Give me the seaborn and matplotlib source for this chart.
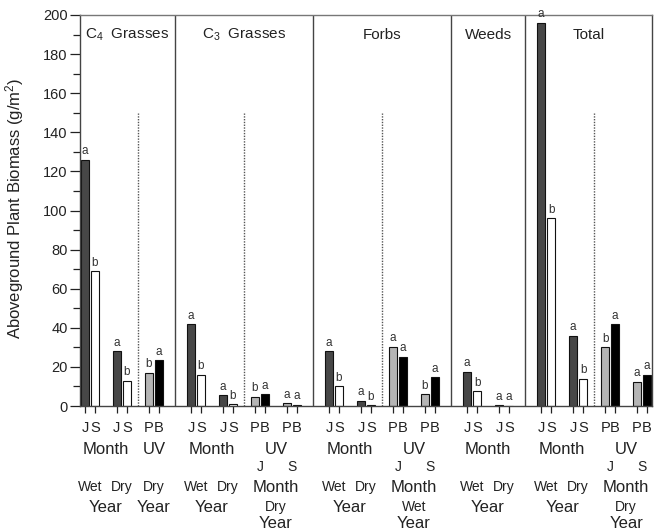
import numpy as np
import pandas as pd
import seaborn as sns
import matplotlib.pyplot as plt
from matplotlib.ticker import MultipleLocator
from matplotlib.transforms import blended_transform_factory

sns.set_theme(style="ticks")
plt.rcParams["font.family"] = ["Liberation Sans", "DejaVu Sans"]
plt.rcParams["mathtext.fontset"] = "custom"
plt.rcParams["mathtext.rm"] = "Liberation Sans"
plt.rcParams["mathtext.it"] = "Liberation Sans:italic"
plt.rcParams["mathtext.bf"] = "Liberation Sans:bold"

# ---- data (one entry per pair of bars) ----
panel_names = ["C$_4$  Grasses", "C$_3$  Grasses", "Forbs", "Weeds", "Total"]
pair_panel = [0, 0, 0, 1, 1, 1, 1, 2, 2, 2, 2, 3, 3, 4, 4, 4, 4]
pair_factor = ["Month", "Month", "UV",
               "Month", "Month", "UV", "UV",
               "Month", "Month", "UV", "UV",
               "Month", "Month",
               "Month", "Month", "UV", "UV"]
pair_year = ["Wet", "Dry", "Dry",
             "Wet", "Dry", "Dry", "Dry",
             "Wet", "Dry", "Wet", "Wet",
             "Wet", "Dry",
             "Wet", "Dry", "Dry", "Dry"]
pair_month = ["", "", "",
              "", "", "J", "S",
              "", "", "J", "S",
              "", "",
              "", "", "J", "S"]
# first bar = J (Month) or P (UV); second bar = S (Month) or B (UV)
first_values = [126, 28, 17, 42, 5.6, 4.8, 1.4, 28, 2.7, 30.3, 6, 17.6, 0.3, 196, 36, 30, 12.4]
second_values = [69, 13, 23.5, 16, 1.0, 6.1, 0.7, 10.2, 0.5, 25.2, 14.7, 7.7, 0.2, 96, 14, 41.8, 16]
first_letters = ["a", "a", "b", "a", "a", "b", "a", "a", "a", "a", "b", "a", "a", "a", "a", "b", "a"]
second_letters = ["b", "b", "a", "b", "b", "a", "a", "b", "b", "a", "a", "b", "a", "b", "b", "a", "a"]
bar_kinds = {"Month": ("J", "S"), "UV": ("P", "B")}
fill_colors = {"J": "#474747", "S": "white", "P": "#b5b5b5", "B": "black"}

PANEL_GAP = 0.32
HALF = 0.156
ink = "#222222"

rows = []
centers = []
for i in range(len(pair_panel)):
    c = i + pair_panel[i] * PANEL_GAP
    centers.append(c)
    k1, k2 = bar_kinds[pair_factor[i]]
    rows.append({"x": c - HALF, "biomass": first_values[i], "kind": k1, "letter": first_letters[i]})
    rows.append({"x": c + HALF, "biomass": second_values[i], "kind": k2, "letter": second_letters[i]})
df = pd.DataFrame(rows)

fig = plt.figure(figsize=(6.67, 5.31), dpi=100)
ax = fig.add_axes([80 / 667, 1 - 406 / 531, 572 / 667, 391 / 531])

sns.barplot(data=df, x="x", y="biomass", hue="kind", palette=fill_colors,
            native_scale=True, dodge=False, width=0.8, errorbar=None,
            edgecolor="#111111", linewidth=0.8, legend=False, ax=ax)

for _, r in df.iterrows():
    ax.text(r.x, r.biomass + 1.2, r.letter, ha="center", va="bottom",
            fontsize=8.5, color="#333333")

ax.set_xlim(centers[0] - 0.31, centers[-1] + 0.31)
ax.set_ylim(0, 200)
ax.yaxis.set_major_locator(MultipleLocator(20))
ax.yaxis.set_minor_locator(MultipleLocator(10))
ax.set_xticks(df.x)
ax.set_xticklabels(df.kind)
ax.tick_params(axis="x", direction="out", length=5, width=0.9, pad=6,
               labelsize=10.5, colors=ink)
ax.tick_params(axis="y", which="major", direction="out", length=7, width=0.9,
               pad=2, labelsize=10.5, colors=ink)
ax.tick_params(axis="y", which="minor", direction="out", length=5, width=0.9, colors=ink)
ax.set_xlabel("")
ax.set_ylabel("Aboveground Plant Biomass (g/m$^2$)", fontsize=12, color=ink)
ax.yaxis.set_label_coords(-0.094, 0.506)
for side in ["left", "bottom", "top", "right"]:
    ax.spines[side].set_visible(True)
    ax.spines[side].set_linewidth(1.0)
    ax.spines[side].set_color("#444444")
ax.spines["top"].set_color("#777777")

# panel dividers, dotted separators and titles
panel_idx = np.array(pair_panel)
cent = np.array(centers)
for p, name in enumerate(panel_names):
    pc = cent[panel_idx == p]
    if p > 0:
        ax.axvline((cent[panel_idx == p - 1][-1] + pc[0]) / 2, color="#444444", lw=1.0)
    left = ax.get_xlim()[0] if p == 0 else (cent[panel_idx == p - 1][-1] + pc[0]) / 2
    right = ax.get_xlim()[1] if p == len(panel_names) - 1 else (pc[-1] + cent[panel_idx == p + 1][0]) / 2
    ax.text((left + right) / 2, 190, name, ha="center", va="center", fontsize=11, color=ink)

for i in range(1, len(pair_panel)):
    if pair_panel[i] == pair_panel[i - 1] and pair_factor[i] == "UV" and pair_factor[i - 1] == "Month":
        ax.vlines((centers[i - 1] + centers[i]) / 2, 0, 150, colors="#555555",
                  linestyles=(0, (1, 1)), lw=1.0)

# grouped labels below the axis
trans = blended_transform_factory(ax.transData, fig.transFigure)
def row(ypx):
    return 1 - ypx / 531

groups = []
for i in range(len(pair_panel)):
    if groups and groups[-1][0] == pair_panel[i] and groups[-1][1] == pair_factor[i]:
        groups[-1][2].append(i)
    else:
        groups.append((pair_panel[i], pair_factor[i], [i]))

big, small = 12, 10
for p, factor, idx in groups:
    xs = [centers[i] for i in idx]
    mid = np.mean(xs)
    ax.text(mid, row(450), factor, transform=trans, ha="center", va="center", fontsize=big, color=ink)
    if factor == "Month":
        for i in idx:
            ax.text(centers[i], row(487), pair_year[i], transform=trans, ha="center",
                    va="center", fontsize=small, color=ink)
        ax.text(mid, row(507), "Year", transform=trans, ha="center", va="center", fontsize=big, color=ink)
    elif len(idx) > 1:
        for i in idx:
            ax.text(centers[i], row(467), pair_month[i], transform=trans, ha="center",
                    va="center", fontsize=small, color=ink)
        ax.text(mid, row(487), "Month", transform=trans, ha="center", va="center", fontsize=big, color=ink)
        ax.text(mid, row(507), pair_year[idx[0]], transform=trans, ha="center", va="center",
                fontsize=small, color=ink)
        ax.text(mid, row(524), "Year", transform=trans, ha="center", va="center", fontsize=big, color=ink)
    else:
        ax.text(mid, row(487), pair_year[idx[0]], transform=trans, ha="center", va="center",
                fontsize=small, color=ink)
        ax.text(mid, row(507), "Year", transform=trans, ha="center", va="center", fontsize=big, color=ink)

fig.savefig("out.png", dpi=100)
